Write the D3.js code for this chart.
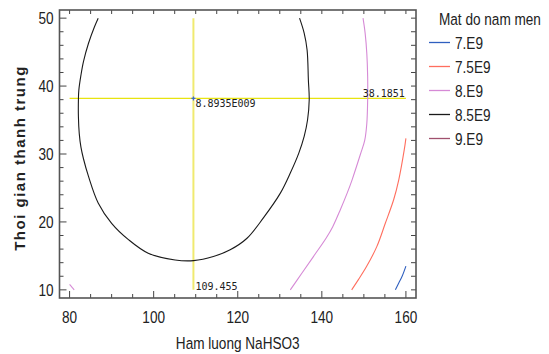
<!DOCTYPE html>
<html lang="en">
<head>
<meta charset="UTF-8">
<title>Contours - Mat do nam men</title>
<script src="https://d3js.org/d3.v7.min.js"></script>
<style>
    body { margin: 0; background: white; }
    svg { display: block; }
    .tick-label { font-family: "Liberation Sans", Arial, sans-serif; font-size: 17px; fill: #222; }
    .lcd { font-family: "DejaVu Sans Mono", monospace; font-size: 10px; fill: #222; }
</style>
</head>
<body>
<svg id="chart" width="549" height="354"></svg>
<script>
    // Values
    const xTicks = [80, 100, 120, 140, 160];
    const yTicks = [10, 20, 30, 40, 50];
    const levelNames = ["7.E9", "7.5E9", "8.E9", "8.5E9", "9.E9"];
    const levelColors = ["#2f5fbf", "#ff6e5e", "#d68ad6", "#1a1a1a", "#a0506e"];

    // contour lines, [NaHSO3, time]
    const contour70 = [[160.0, 13.5], [159.1, 12.0], [158.3, 11.0], [157.5, 10.0]];
    const contour75 = [[160.0, 32.3], [159.6, 30.6], [158.3, 26.2], [157.1, 23.3], [155.1, 19.8],
        [153.1, 16.4], [150.7, 13.5], [148.7, 11.5], [147.1, 10.0]];
    const contour80 = [[149.8, 50.0], [150.3, 47.8], [150.7, 44.8], [150.9, 41.4], [150.9, 38.0],
        [150.7, 34.5], [150.2, 32.0], [149.2, 30.0], [147.2, 26.2], [146.0, 24.2], [144.4, 21.8],
        [142.6, 19.3], [141.0, 17.6], [138.0, 14.9], [135.2, 12.4], [132.5, 10.0]];
    const contour80b = [[80.0, 10.8], [81.1, 10.0]];
    const contour85 = [[86.8, 50.0], [85.9, 48.7], [84.5, 46.3], [83.3, 43.6], [82.7, 41.6],
        [82.2, 39.4], [82.1, 38.0], [82.1, 35.5], [82.3, 33.0], [82.7, 31.0], [83.3, 29.3],
        [84.5, 26.7], [86.8, 22.8], [90.0, 19.8], [94.0, 17.4], [98.7, 15.4], [105.1, 14.4],
        [109.5, 14.3], [114.2, 14.9], [118.2, 15.9], [122.2, 17.6], [126.1, 20.6], [130.1, 24.2],
        [132.5, 27.2], [134.5, 30.1], [135.8, 32.6], [136.6, 35.0], [137.0, 38.0], [136.8, 40.9],
        [136.5, 45.3], [135.8, 47.8], [134.7, 50.0]];
    const contours = [
        { level: 0, pts: contour70 },
        { level: 1, pts: contour75 },
        { level: 2, pts: contour80 },
        { level: 2, pts: contour80b },
        { level: 3, pts: contour85 }
    ];

    // optimum point
    const optX = 109.455;
    const optY = 38.1851;
    const optLabel = "8.8935E009";

    const svg = d3.select("#chart");
    const margin = { top: 10, left: 59.5, right: 133, bottom: 56 };
    const W = 549 - margin.left - margin.right;
    const H = 354 - margin.top - margin.bottom;

    const x = d3.scaleLinear().domain([77.6, 162.4]).range([0, W]);
    const y = d3.scaleLinear().domain([8.8, 51.2]).range([H, 0]);

    // the reference uses a narrow sans; squeeze regular Liberation Sans horizontally
    function narrowText(parent, px, py, str, anchor) {
        return parent.append("g")
            .attr("transform", `translate(${px},${py}) scale(0.8,1)`)
            .append("text")
            .attr("class", "tick-label")
            .attr("text-anchor", anchor || "start")
            .text(str);
    }

    const g = svg.append("g").attr("transform", `translate(${margin.left},${margin.top})`);

    // crosshair
    g.append("line")
        .attr("x1", x(optX)).attr("x2", x(optX))
        .attr("y1", y(10)).attr("y2", y(50))
        .attr("stroke", "#f0ea70").attr("stroke-width", 2);
    g.append("line")
        .attr("x1", x(80)).attr("x2", x(160))
        .attr("y1", y(optY)).attr("y2", y(optY))
        .attr("stroke", "#e8e410").attr("stroke-width", 1.3);

    // contour lines
    const line = d3.line()
        .x(d => x(d[0]))
        .y(d => y(d[1]))
        .curve(d3.curveCatmullRom.alpha(0.5));
    g.selectAll("path.contour")
        .data(contours)
        .join("path")
        .attr("class", "contour")
        .attr("d", d => line(d.pts))
        .attr("fill", "none")
        .attr("stroke", d => levelColors[d.level])
        .attr("stroke-width", 1.1);

    // optimum marker + labels
    g.append("path")
        .attr("d", `M${x(optX) - 2},${y(optY)}h4M${x(optX)},${y(optY) - 2}v4`)
        .attr("stroke", "#3a6ad0").attr("stroke-width", 1.2);
    g.append("text").attr("class", "lcd")
        .attr("x", x(optX) + 2).attr("y", y(optY) + 8.5)
        .text(optLabel);
    g.append("text").attr("class", "lcd")
        .attr("x", x(160) - 1).attr("y", y(optY) - 1.5)
        .attr("text-anchor", "end")
        .text(optY.toFixed(4));
    g.append("text").attr("class", "lcd")
        .attr("x", x(optX) + 2).attr("y", y(10) + 0.5)
        .text(optX.toFixed(3));

    // ticks (inward) on all four sides
    const xMinor = d3.range(80, 161, 5);
    const yMinor = d3.range(10, 51, 2);
    const tk = g.append("g").attr("stroke", "#444").attr("stroke-width", 1);
    xMinor.forEach(v => {
        const len = xTicks.includes(v) ? 7 : 4;
        tk.append("line").attr("x1", x(v)).attr("x2", x(v)).attr("y1", H).attr("y2", H - len);
        tk.append("line").attr("x1", x(v)).attr("x2", x(v)).attr("y1", 0).attr("y2", 4);
    });
    yMinor.forEach(v => {
        const len = yTicks.includes(v) ? 7 : 4;
        tk.append("line").attr("y1", y(v)).attr("y2", y(v)).attr("x1", 0).attr("x2", len);
        tk.append("line").attr("y1", y(v)).attr("y2", y(v)).attr("x1", W).attr("x2", W - 5);
    });

    // frame
    g.append("rect")
        .attr("width", W).attr("height", H)
        .attr("fill", "none").attr("stroke", "#555").attr("stroke-width", 1.6);

    // tick labels
    xTicks.forEach(v => narrowText(g, x(v), H + 25, v, "middle"));
    yTicks.forEach(v => narrowText(g, -6, y(v) + 6, v, "end"));

    // axis titles
    narrowText(svg, margin.left + W / 2, 349, "Ham luong NaHSO3", "middle");
    svg.append("text")
        .attr("transform", "translate(25,158) rotate(-90)")
        .attr("text-anchor", "middle")
        .attr("font-family", "Liberation Sans, Arial, sans-serif")
        .attr("font-weight", "bold")
        .attr("font-size", 15)
        .attr("letter-spacing", 1.5)
        .attr("fill", "#222")
        .text("Thoi gian thanh trung");

    // legend
    const leg = svg.append("g");
    narrowText(leg, 439, 25, "Mat do nam men");
    levelNames.forEach((name, i) => {
        const ly = 42.5 + i * 24;
        leg.append("line")
            .attr("x1", 429).attr("x2", 450)
            .attr("y1", ly).attr("y2", ly)
            .attr("stroke", levelColors[i]).attr("stroke-width", 1.3);
        narrowText(leg, 455, ly + 6, name);
    });
</script>
</body>
</html>
